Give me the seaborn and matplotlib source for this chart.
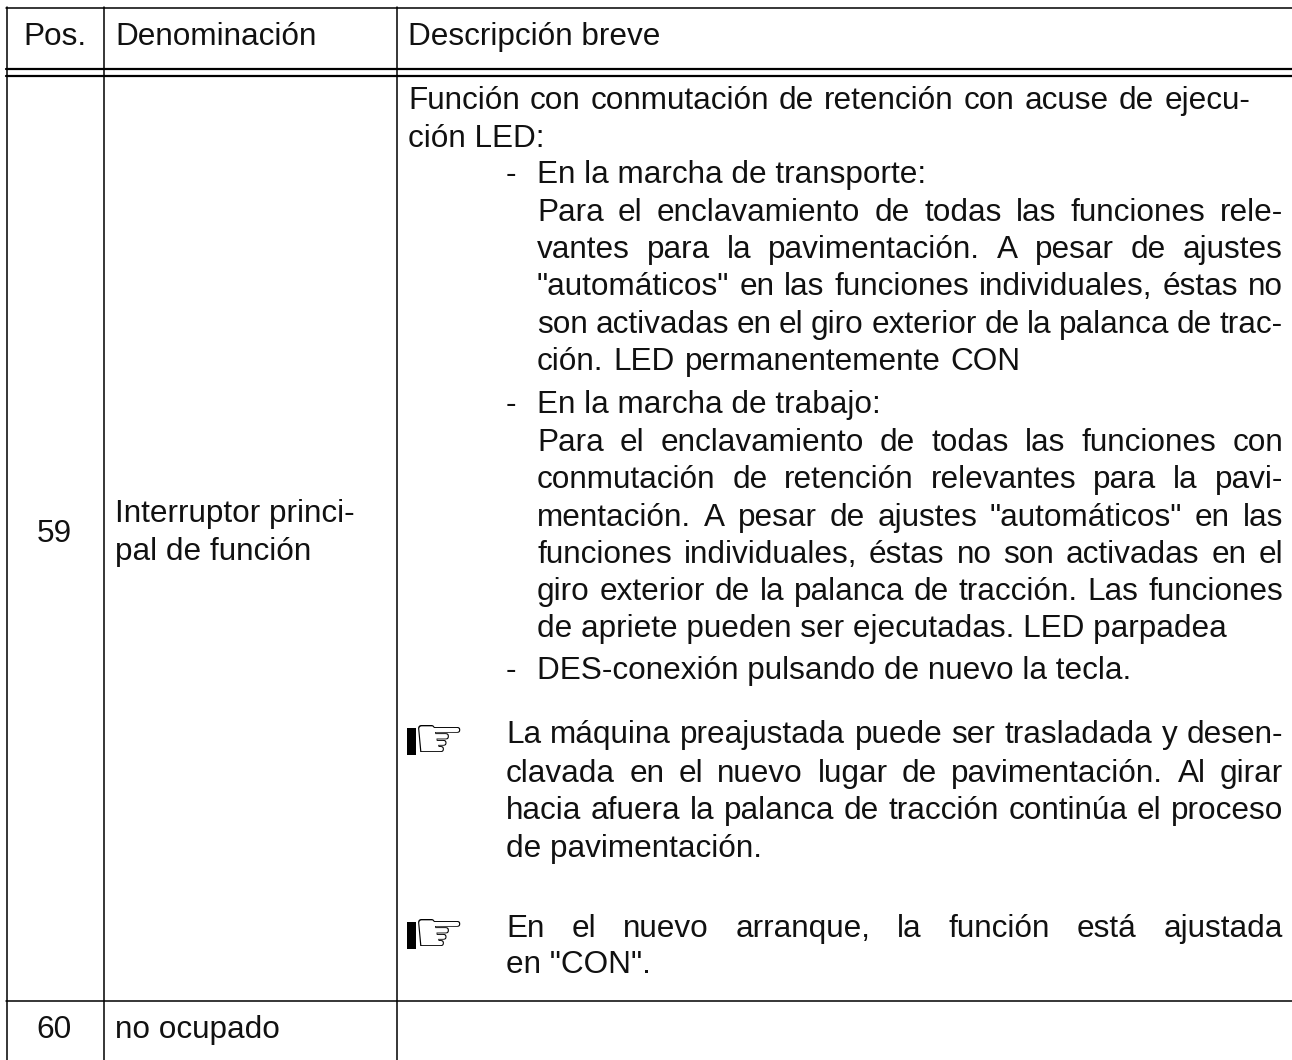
import matplotlib
matplotlib.use("Agg")
import matplotlib.pyplot as plt
from matplotlib.patches import Rectangle
import seaborn as sns

W, H = 1292, 1060

headers = ["Pos.", "Denominación", "Descripción breve"]
row_pos = ["59", "60"]
row_names = [["Interruptor princi-", "pal de función"], ["no ocupado"]]

# (text, left x, baseline y, right x to justify to or None)
body_lines = [
    ("Función con conmutación de retención con acuse de ejecu-", 408, 109, 1250),
    ("ción LED:", 408, 147, None),
    ("-", 506, 183, None),
    ("En la marcha de transporte:", 537, 183, None),
    ("Para el enclavamiento de todas las funciones rele-", 537, 221, 1283),
    ("vantes para la pavimentación. A pesar de ajustes", 537, 258, 1283),
    ("\"automáticos\" en las funciones individuales, éstas no", 537, 295, 1283),
    ("son activadas en el giro exterior de la palanca de trac-", 537, 333, 1283),
    ("ción. LED permanentemente CON", 537, 370, 1021),
    ("-", 506, 413, None),
    ("En la marcha de trabajo:", 537, 413, None),
    ("Para el enclavamiento de todas las funciones con", 537, 451, 1283),
    ("conmutación de retención relevantes para la pavi-", 537, 488, 1283),
    ("mentación. A pesar de ajustes \"automáticos\" en las", 537, 526, 1283),
    ("funciones individuales, éstas no son activadas en el", 537, 563, 1283),
    ("giro exterior de la palanca de tracción. Las funciones", 537, 600, 1283),
    ("de apriete pueden ser ejecutadas. LED parpadea", 537, 637, None),
    ("-", 506, 679, None),
    ("DES-conexión pulsando de nuevo la tecla.", 537, 679, None),
    ("La máquina preajustada puede ser trasladada y desen-", 506, 743, 1283),
    ("clavada en el nuevo lugar de pavimentación. Al girar", 506, 782, 1283),
    ("hacia afuera la palanca de tracción continúa el proceso", 506, 819, 1283),
    ("de pavimentación.", 506, 857, None),
    ("En el nuevo arranque, la función está ajustada", 506, 937, 1283),
    ("en \"CON\".", 506, 973, None),
]
hand_y = [741, 935]

column_x = [6.5, 103.5, 396.5]

sns.set_theme(style="white")
plt.rcParams["font.family"] = ["Liberation Sans", "DejaVu Sans"]

fig = plt.figure(figsize=(W / 100, H / 100), dpi=100)
ax = fig.add_axes([0, 0, 1, 1])
ax.set_xlim(0, W)
ax.set_ylim(H, 0)
ax.axis("off")

FS = 22.7
INK = "#111111"


def put(s, x, y, **kw):
    return ax.text(x, y, s, fontsize=FS, color=INK, va="baseline", **kw)


def justified(s, x, y, right):
    # place word by word so both edges line up
    words = s.split(" ")
    r = fig.canvas.get_renderer()
    items = [put(w, x, y) for w in words]
    widths = [t.get_window_extent(r).width for t in items]
    gap = (right - x - sum(widths)) / (len(words) - 1)
    cur = x
    for t, w in zip(items, widths):
        t.set_x(cur)
        cur += w + gap


# grid lines
ax.plot([6, W], [8, 8], color="black", lw=1.1)
ax.plot([6, W], [68.5, 68.5], color="black", lw=1.6)
ax.plot([6, W], [76, 76], color="black", lw=1.6)
ax.plot([6, W], [1000.5, 1000.5], color="black", lw=1.1)
for x in column_x:
    ax.plot([x, x], [7, H], color="black", lw=1.1)

# header
put(headers[0], 23, 45)
put(headers[1], 115, 45)
put(headers[2], 408, 45)

# left columns
put(row_pos[0], 54, 542, ha="center")
put(row_names[0][0], 115, 522)
put(row_names[0][1], 115, 560)
put(row_pos[1], 54, 1038, ha="center")
put(row_names[1][0], 115, 1038)

for s, x, y, right in body_lines:
    if right:
        justified(s, x, y, right)
    else:
        put(s, x, y)

# pointing hand notes
for y in hand_y:
    ax.add_patch(Rectangle((407, y - 13), 9, 27, color="black", lw=0))
    ax.text(413, y, "\u261e", fontsize=42, family="DejaVu Sans", color="black", va="center")

fig.savefig("out.png", dpi=100, facecolor="white")
